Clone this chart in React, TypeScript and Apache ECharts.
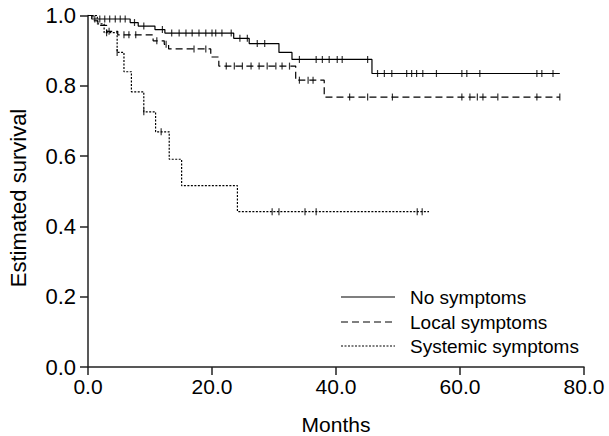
import React, { useEffect, useRef } from "react";
import * as echarts from "echarts";

// ---- data ----
const xTicks = [0, 20, 40, 60, 80];
const yTicks = [0, 0.2, 0.4, 0.6, 0.8, 1.0];

const seriesNames = ["No symptoms", "Local symptoms", "Systemic symptoms"];

// No symptoms: step times and survival after each step
const noSymTimes = [0, 0.6, 6.8, 8.1, 10.8, 12.4, 23.5, 26.0, 30.8, 32.9, 45.8];
const noSymSurv = [1.0, 0.99, 0.98, 0.97, 0.96, 0.95, 0.935, 0.92, 0.895, 0.875, 0.835];
const noSymEnd = 76.1;
const noSymCensor = [1.1, 1.9, 2.7, 3.5, 4.4, 5.2, 6.0, 7.5, 9.0, 12.0, 13.5, 14.7, 15.8, 16.8, 17.9, 19.0, 20.0, 20.6, 21.6, 23.1, 24.5, 25.7, 27.3, 28.5, 34.1, 36.8, 37.8, 38.9, 40.2, 41.0, 45.1, 46.7, 47.8, 49.0, 51.4, 52.2, 53.0, 54.0, 56.2, 60.3, 61.1, 63.2, 72.4, 73.2, 75.0];

// Local symptoms
const localTimes = [0, 0.8, 1.6, 3.0, 4.8, 10.5, 12.3, 13.0, 19.8, 21.1, 33.5, 38.1];
const localSurv = [1.0, 0.985, 0.972, 0.955, 0.945, 0.928, 0.918, 0.905, 0.882, 0.856, 0.816, 0.768];
const localEnd = 76.1;
const localCensor = [3.4, 5.8, 6.6, 7.7, 11.1, 12.6, 17.1, 19.0, 22.3, 23.6, 24.9, 26.3, 27.6, 28.9, 30.3, 31.3, 32.5, 34.1, 35.5, 36.3, 42.2, 45.1, 49.1, 60.3, 61.6, 62.8, 63.7, 66.1, 72.4, 76.1];

// Systemic symptoms
const sysTimes = [0, 1.5, 2.6, 4.7, 5.8, 7.0, 9.0, 10.9, 13.1, 15.1, 24.1];
const sysSurv = [1.0, 0.976, 0.951, 0.895, 0.84, 0.783, 0.726, 0.669, 0.591, 0.516, 0.442];
const sysEnd = 55.0;
const sysCensor = [3.0, 4.7, 9.0, 11.8, 29.7, 30.8, 35.0, 36.8, 53.1, 53.9];

const FONT = "'Liberation Sans', Arial, sans-serif";

function stepData(times: number[], surv: number[], end: number) {
  const d = times.map((t, i) => [t, surv[i]]);
  d.push([end, surv[surv.length - 1]]);
  return d;
}

function censorData(times: number[], surv: number[], cens: number[]) {
  return cens.map((c) => {
    let v = surv[0];
    for (let i = 0; i < times.length; i++) if (times[i] <= c) v = surv[i];
    return [c, v];
  });
}

const lineTypes: any[] = ["solid", [7, 4], [2, 1.5]];

export default function App() {
  const ref = useRef<HTMLDivElement>(null);
  useEffect(() => {
    if (!ref.current) return;
    const chart = echarts.init(ref.current, undefined, { renderer: "svg" });
    const groups = [
      { t: noSymTimes, s: noSymSurv, e: noSymEnd, c: noSymCensor },
      { t: localTimes, s: localSurv, e: localEnd, c: localCensor },
      { t: sysTimes, s: sysSurv, e: sysEnd, c: sysCensor },
    ];
    const series: any[] = [];
    groups.forEach((g, i) => {
      series.push({
        name: seriesNames[i],
        type: "line",
        step: "end",
        showSymbol: false,
        data: stepData(g.t, g.s, g.e),
        lineStyle: { color: "#000", width: 1.2, type: lineTypes[i] },
        silent: true,
      });
      series.push({
        type: "scatter",
        symbol: "rect",
        symbolSize: [1.2, 7],
        data: censorData(g.t, g.s, g.c),
        itemStyle: { color: "#000" },
        silent: true,
      });
    });

    const legendY = [297, 322, 346];
    const graphic: any[] = [];
    seriesNames.forEach((n, i) => {
      graphic.push({
        type: "line",
        shape: { x1: 341, y1: legendY[i], x2: 395, y2: legendY[i] },
        style: { stroke: "#000", lineWidth: 1.2, lineDash: i === 0 ? null : lineTypes[i] },
      });
      graphic.push({
        type: "text",
        x: 410,
        y: legendY[i],
        style: { text: n, fontSize: 19, fontFamily: FONT, fill: "#000", align: "left", verticalAlign: "middle" },
      });
    });
    graphic.push({
      type: "text",
      x: 336,
      y: 424,
      style: { text: "Months", fontSize: 21, fontFamily: FONT, fill: "#000", align: "center", verticalAlign: "middle" },
    });
    graphic.push({
      type: "text",
      x: 18,
      y: 198,
      rotation: Math.PI / 2,
      style: { text: "Estimated survival", fontSize: 22, fontFamily: FONT, fill: "#000", align: "center", verticalAlign: "middle" },
    });

    const axisCommon = {
      axisLine: { show: true, lineStyle: { color: "#222", width: 1.5 } },
      axisTick: { show: true, inside: false, length: 8, lineStyle: { color: "#222", width: 1.5 } },
      splitLine: { show: false },
    };

    chart.setOption({
      animation: false,
      backgroundColor: "#fff",
      grid: { left: 88, top: 15.5, width: 496, height: 351.5, containLabel: false },
      xAxis: {
        type: "value",
        min: xTicks[0],
        max: xTicks[xTicks.length - 1],
        interval: 20,
        ...axisCommon,
        axisLabel: { fontSize: 21, fontFamily: FONT, color: "#000", margin: 9, formatter: (v: number) => v.toFixed(1) },
      },
      yAxis: {
        type: "value",
        min: yTicks[0],
        max: yTicks[yTicks.length - 1],
        interval: 0.2,
        ...axisCommon,
        axisLabel: { fontSize: 22, fontFamily: FONT, color: "#000", margin: 12, formatter: (v: number) => v.toFixed(1) },
      },
      series,
      graphic,
    });
    return () => chart.dispose();
  }, []);
  return (
    <div
      ref={ref}
      style={{ position: "fixed", left: 0, top: 0, width: 609, height: 436 }}
    />
  );
}
